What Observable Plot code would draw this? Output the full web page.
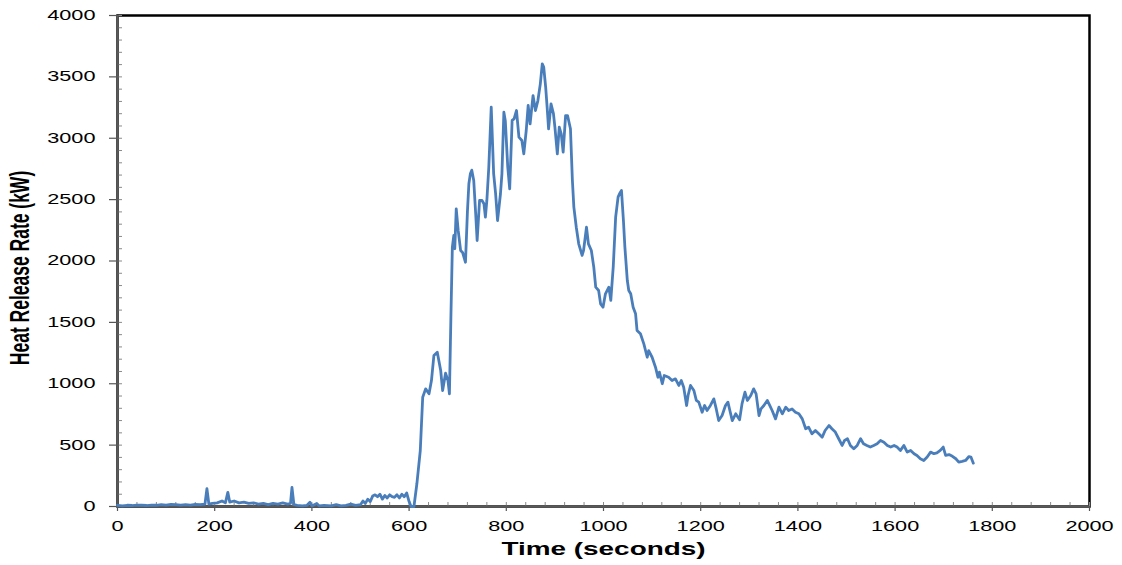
<!DOCTYPE html>
<html>
<head>
<meta charset="utf-8">
<script src="https://cdn.jsdelivr.net/npm/d3@7"></script>
<script src="https://cdn.jsdelivr.net/npm/@observablehq/plot@0.6"></script>
<style>
  html, body { margin: 0; padding: 0; background: #fff; }
</style>
</head>
<body>
<div id="chart"></div>
<script>
// ---- data ----
const timeSec = [
  0,10,20,30,40,50,60,70,80,90,100,110,120,130,140,150,160,170,180,184,188,195,205,215,222,227,231,240,250,260,270,280,290,300,310,320,330,340,350,356,359,363,370,380,390,396,400,410,415,425,440,450,460,470,480,490,500,505,510,515,520,525,530,535,540,545,550,555,560,565,570,575,580,585,590,595,600,604,610,
  616,623,628,634,641,646,651,658,665,669,675,680,683,686,689,692,694,697,701,706,710,716,720,723,726,729,733,737,740,745,750,754,757,760,764,769,774,778,782,788,791,795,798,803,807,812,816,821,826,832,836,841,845,849,855,860,865,870,874,877,881,884,887,892,897,900,905,909,913,917,922,926,932,936,939,944,949,956,959,965,969,975,980,984,990,994,999,1004,1011,1015,1020,1025,1030,1033,1037,1041,1044,1049,1052,1056,1061,1066,1069,1076,1083,1090,1093,1100,1107,1112,1115,1121,1125,1134,1141,1148,1155,1160,1165,1171,1174,1179,1186,1191,1196,1203,1208,1213,1220,1227,1232,1237,1244,1251,1256,1260,1265,1272,1280,1285,1291,1296,1303,1309,1314,1320,1324,1330,1337,1342,1347,1354,1361,1368,1375,1381,1388,1395,1402,1409,1416,1422,1429,1436,1443,1450,1456,1464,1470,1477,1484,1491,1496,1502,1508,1515,1522,1529,1535,1542,1549,1556,1563,1570,1577,1584,1591,1598,1604,1611,1618,1625,1632,1639,1645,1652,1659,1666,1673,1680,1686,1693,1699,1704,1711,1718,1725,1731,1738,1745,1752,1756,1761
];
const heatReleaseKW = [
  10,5,10,8,12,10,8,12,10,15,12,18,15,12,15,12,18,15,20,145,20,25,30,45,30,115,35,45,30,35,25,30,20,25,15,25,20,30,20,25,155,15,10,5,10,35,5,25,5,10,5,15,5,10,20,10,15,45,25,60,40,85,95,80,100,60,90,70,95,80,75,95,70,100,80,110,40,0,0,
  185,456,890,958,918,1026,1230,1257,1108,945,1086,1026,918,1542,2113,2208,2100,2425,2249,2086,2070,1990,2400,2629,2710,2740,2656,2385,2167,2493,2493,2466,2357,2493,2765,3253,2710,2548,2330,2548,2710,3212,3140,2765,2588,3145,3158,3226,3009,2982,2873,3063,3267,3118,3348,3226,3307,3443,3606,3580,3416,3253,3077,3280,3200,3090,2873,3090,3036,2887,3185,3185,3077,2656,2439,2275,2140,2045,2086,2275,2140,2086,1950,1787,1760,1651,1624,1733,1787,1680,1950,2357,2520,2548,2574,2330,2113,1841,1760,1733,1624,1570,1434,1407,1325,1216,1270,1216,1135,1053,1094,1000,1067,1053,1026,1040,986,1026,972,823,904,986,945,864,850,768,823,782,823,877,795,700,741,823,850,782,700,755,706,836,931,864,904,958,918,741,795,823,864,823,782,714,809,755,809,782,795,768,755,714,633,646,592,619,592,565,619,660,633,606,552,497,538,552,497,470,497,552,511,497,484,497,511,538,524,497,484,497,484,457,497,443,457,430,416,389,375,403,443,430,436,457,484,416,423,409,389,362,368,375,407,403,353
];
const xTicksMajor = [0,200,400,600,800,1000,1200,1400,1600,1800,2000];
const yTicksMajor = [0,500,1000,1500,2000,2500,3000,3500,4000];
const xTicksMinor = d3.range(0, 2001, 40);
const yTicksMinor = d3.range(0, 4001, 100);
const xLabel = "Time (seconds)";
const yLabel = "Heat Release Rate (kW)";

const rows = timeSec.map((t, i) => ({t, v: heatReleaseKW[i]}));

const chart = Plot.plot({
  width: 1122,
  height: 565,
  marginLeft: 117,
  marginRight: 33,
  marginTop: 15,
  marginBottom: 59,
  style: {fontFamily: "'Liberation Sans', Arial, sans-serif", fontSize: "14px", color: "#000", background: "#fff"},
  x: {domain: [0, 2000], label: null},
  y: {domain: [0, 4000], label: null},
  marks: [
    Plot.frame({stroke: "#000", strokeWidth: 2.5}),
    Plot.axisY({ticks: yTicksMinor, tickSize: -5, text: null, stroke: "#8a8a8a", strokeWidth: 1}),
    Plot.axisX({ticks: xTicksMinor, tickSize: -4, text: null, stroke: "#8a8a8a", strokeWidth: 1}),
    Plot.axisY({ticks: yTicksMajor, tickSize: 8, tickPadding: 14, tickFormat: d => String(d), stroke: "#555", strokeWidth: 1.2, fill: "#000"}),
    Plot.axisX({ticks: xTicksMajor, tickSize: 5, tickPadding: 10, tickFormat: d => String(d), stroke: "#555", strokeWidth: 1.2, fill: "#000"}),
    Plot.ruleX([0], {stroke: "#595959", strokeWidth: 2.5}),
    Plot.ruleY([0], {stroke: "#595959", strokeWidth: 2.5}),
    Plot.line(rows, {x: "t", y: "v", stroke: "#4A7EBB", strokeWidth: 2.8, strokeLinejoin: "round"}),
    Plot.text([xLabel], {frameAnchor: "bottom", dy: 43, fontWeight: "bold", fontSize: 18, lineAnchor: "middle", textAnchor: "middle"}),
    Plot.text([yLabel], {frameAnchor: "left", dx: -97, dy: 7, rotate: -90, fontWeight: "bold", fontSize: 17.5, lineAnchor: "middle", textAnchor: "middle"})
  ]
});

// the reference's text is horizontally stretched; reproduce that
const S = 1.55;
chart.querySelectorAll("text").forEach(t => {
  let tr = t.getAttribute("transform") || "";
  const xa = t.getAttribute("x"), ya = t.getAttribute("y");
  const num = s => s != null && /^-?[\d.]+$/.test(s);
  if (num(xa) || num(ya)) {
    tr = `translate(${num(xa) ? +xa : 0},${num(ya) ? +ya : 0}) ` + tr;
    if (num(xa)) t.removeAttribute("x");
    if (num(ya)) t.removeAttribute("y");
  }
  if (tr.includes("rotate")) tr = tr.replace("rotate", `scale(${S},1) rotate`);
  else tr = tr + ` scale(${S},1)`;
  t.setAttribute("transform", tr.trim());
});

document.getElementById("chart").appendChild(chart);
</script>
</body>
</html>
